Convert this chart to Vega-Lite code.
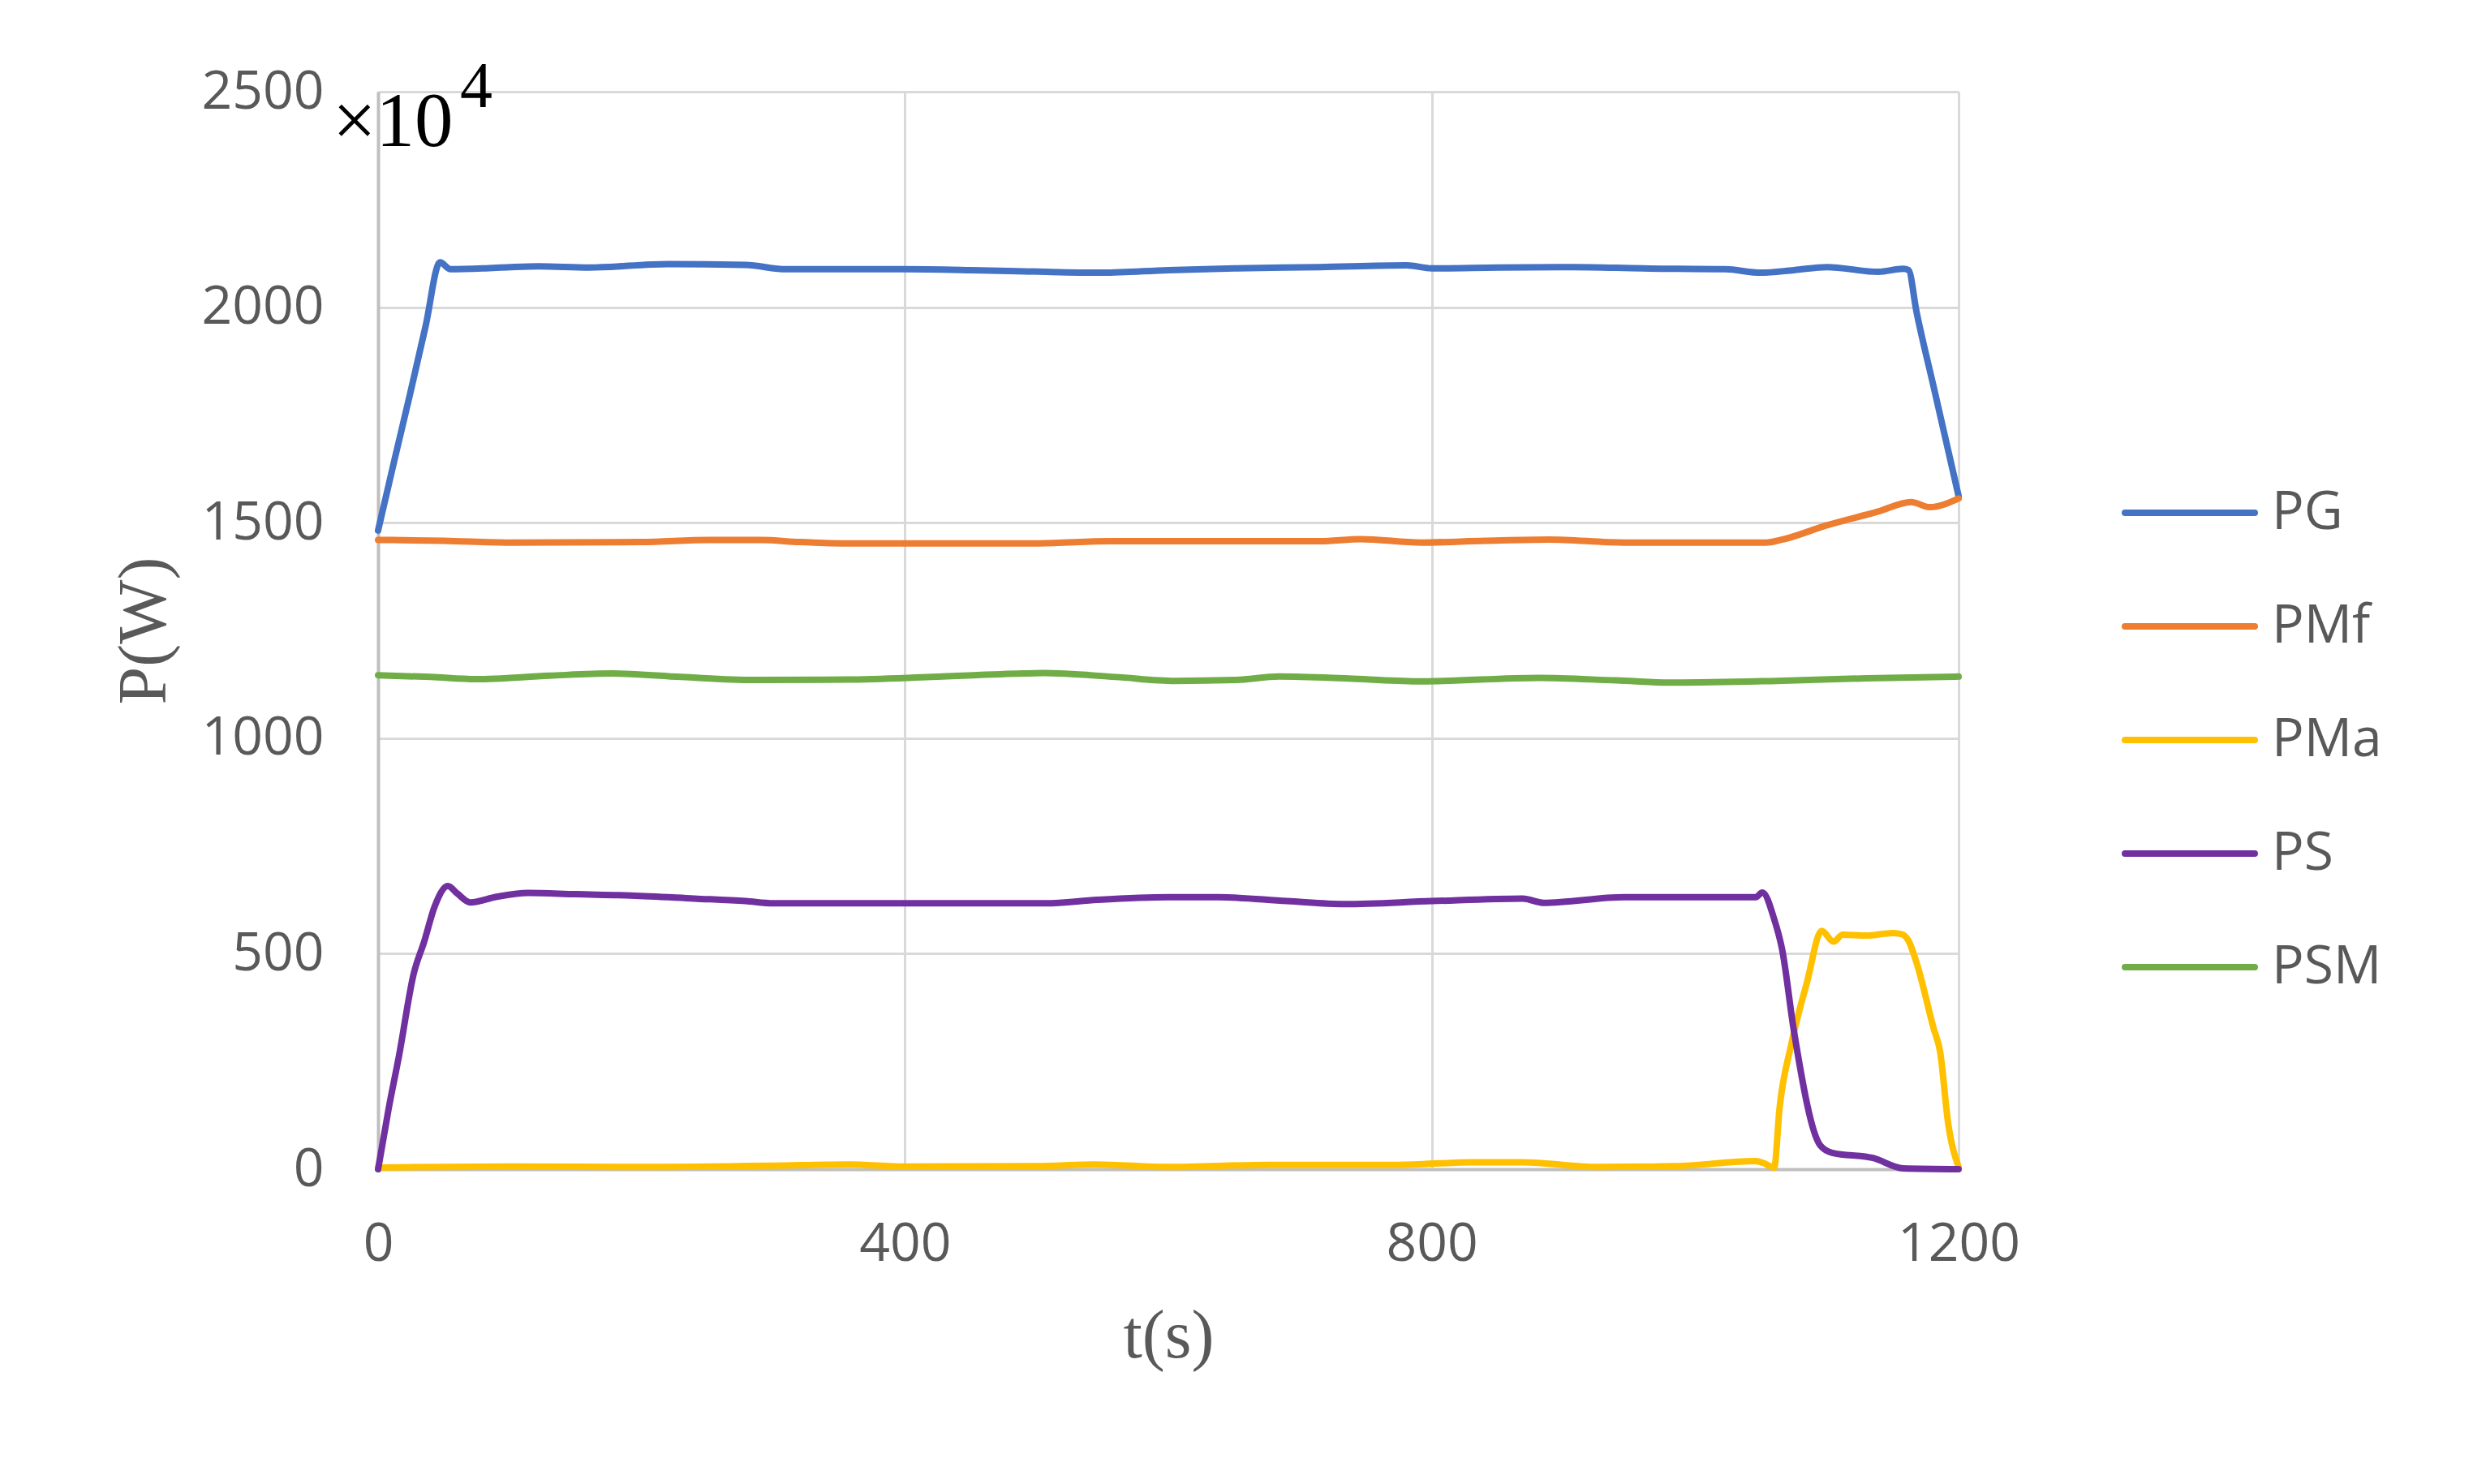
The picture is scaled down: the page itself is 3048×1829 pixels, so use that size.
{
  "$schema": "https://vega.github.io/schema/vega-lite/v6.json",
  "width": 1948,
  "height": 1328,
  "autosize": {"type": "none"},
  "padding": {"left": 466, "top": 113, "right": 634, "bottom": 388},
  "background": "white",
  "config": {"view": {"stroke": null}, "font": "Open Sans"},
  "datasets": {
    "series": [
      {"s": "PG", "t": 0, "v": 1482}, {"s": "PG", "t": 12, "v": 1640}, {"s": "PG", "t": 24, "v": 1795}, {"s": "PG", "t": 36, "v": 1955}, {"s": "PG", "t": 47, "v": 2104}, {"s": "PG", "t": 55, "v": 2088}, {"s": "PG", "t": 80, "v": 2090}, {"s": "PG", "t": 100, "v": 2093}, {"s": "PG", "t": 122, "v": 2095}, {"s": "PG", "t": 160, "v": 2092}, {"s": "PG", "t": 220, "v": 2100}, {"s": "PG", "t": 279, "v": 2098}, {"s": "PG", "t": 310, "v": 2088}, {"s": "PG", "t": 400, "v": 2088}, {"s": "PG", "t": 450, "v": 2086}, {"s": "PG", "t": 507, "v": 2082}, {"s": "PG", "t": 550, "v": 2080}, {"s": "PG", "t": 600, "v": 2086}, {"s": "PG", "t": 650, "v": 2090}, {"s": "PG", "t": 715, "v": 2093}, {"s": "PG", "t": 781, "v": 2097}, {"s": "PG", "t": 800, "v": 2090}, {"s": "PG", "t": 850, "v": 2092}, {"s": "PG", "t": 908, "v": 2093}, {"s": "PG", "t": 960, "v": 2090}, {"s": "PG", "t": 1023, "v": 2088}, {"s": "PG", "t": 1050, "v": 2080}, {"s": "PG", "t": 1075, "v": 2086}, {"s": "PG", "t": 1100, "v": 2093}, {"s": "PG", "t": 1139, "v": 2082}, {"s": "PG", "t": 1158, "v": 2089}, {"s": "PG", "t": 1162, "v": 2086}, {"s": "PG", "t": 1168, "v": 1990}, {"s": "PG", "t": 1181, "v": 1816}, {"s": "PG", "t": 1200, "v": 1562},
      {"s": "PMf", "t": 0, "v": 1460}, {"s": "PMf", "t": 50, "v": 1458}, {"s": "PMf", "t": 100, "v": 1454}, {"s": "PMf", "t": 200, "v": 1455}, {"s": "PMf", "t": 251, "v": 1460}, {"s": "PMf", "t": 291, "v": 1460}, {"s": "PMf", "t": 320, "v": 1455}, {"s": "PMf", "t": 356, "v": 1452}, {"s": "PMf", "t": 502, "v": 1452}, {"s": "PMf", "t": 555, "v": 1457}, {"s": "PMf", "t": 715, "v": 1457}, {"s": "PMf", "t": 746, "v": 1462}, {"s": "PMf", "t": 792, "v": 1454}, {"s": "PMf", "t": 840, "v": 1458}, {"s": "PMf", "t": 889, "v": 1461}, {"s": "PMf", "t": 946, "v": 1454}, {"s": "PMf", "t": 1054, "v": 1454}, {"s": "PMf", "t": 1065, "v": 1460}, {"s": "PMf", "t": 1100, "v": 1494}, {"s": "PMf", "t": 1139, "v": 1526}, {"s": "PMf", "t": 1164, "v": 1548}, {"s": "PMf", "t": 1178, "v": 1536}, {"s": "PMf", "t": 1200, "v": 1556},
      {"s": "PMa", "t": 0, "v": 4}, {"s": "PMa", "t": 100, "v": 6}, {"s": "PMa", "t": 200, "v": 5}, {"s": "PMa", "t": 300, "v": 8}, {"s": "PMa", "t": 357, "v": 11}, {"s": "PMa", "t": 400, "v": 6}, {"s": "PMa", "t": 500, "v": 7}, {"s": "PMa", "t": 545, "v": 11}, {"s": "PMa", "t": 600, "v": 5}, {"s": "PMa", "t": 677, "v": 10}, {"s": "PMa", "t": 774, "v": 10}, {"s": "PMa", "t": 831, "v": 16}, {"s": "PMa", "t": 869, "v": 16}, {"s": "PMa", "t": 927, "v": 5}, {"s": "PMa", "t": 985, "v": 7}, {"s": "PMa", "t": 1046, "v": 19}, {"s": "PMa", "t": 1052, "v": 14}, {"s": "PMa", "t": 1060, "v": 4}, {"s": "PMa", "t": 1064, "v": 140}, {"s": "PMa", "t": 1073, "v": 290}, {"s": "PMa", "t": 1085, "v": 435}, {"s": "PMa", "t": 1096, "v": 553}, {"s": "PMa", "t": 1105, "v": 528}, {"s": "PMa", "t": 1112, "v": 544}, {"s": "PMa", "t": 1130, "v": 542}, {"s": "PMa", "t": 1150, "v": 548}, {"s": "PMa", "t": 1157, "v": 545}, {"s": "PMa", "t": 1162, "v": 530}, {"s": "PMa", "t": 1168, "v": 480}, {"s": "PMa", "t": 1181, "v": 327}, {"s": "PMa", "t": 1186, "v": 272}, {"s": "PMa", "t": 1192, "v": 108}, {"s": "PMa", "t": 1200, "v": 5},
      {"s": "PS", "t": 0, "v": 0}, {"s": "PS", "t": 8, "v": 140}, {"s": "PS", "t": 16, "v": 265}, {"s": "PS", "t": 27, "v": 453}, {"s": "PS", "t": 35, "v": 528}, {"s": "PS", "t": 43, "v": 610}, {"s": "PS", "t": 53, "v": 657}, {"s": "PS", "t": 60, "v": 640}, {"s": "PS", "t": 70, "v": 619}, {"s": "PS", "t": 90, "v": 632}, {"s": "PS", "t": 114, "v": 641}, {"s": "PS", "t": 150, "v": 638}, {"s": "PS", "t": 192, "v": 635}, {"s": "PS", "t": 240, "v": 628}, {"s": "PS", "t": 279, "v": 622}, {"s": "PS", "t": 300, "v": 617}, {"s": "PS", "t": 400, "v": 617}, {"s": "PS", "t": 507, "v": 617}, {"s": "PS", "t": 546, "v": 625}, {"s": "PS", "t": 600, "v": 631}, {"s": "PS", "t": 638, "v": 631}, {"s": "PS", "t": 690, "v": 622}, {"s": "PS", "t": 734, "v": 615}, {"s": "PS", "t": 800, "v": 622}, {"s": "PS", "t": 869, "v": 628}, {"s": "PS", "t": 885, "v": 618}, {"s": "PS", "t": 946, "v": 631}, {"s": "PS", "t": 1046, "v": 631}, {"s": "PS", "t": 1051, "v": 642}, {"s": "PS", "t": 1060, "v": 580}, {"s": "PS", "t": 1066, "v": 510}, {"s": "PS", "t": 1075, "v": 320}, {"s": "PS", "t": 1095, "v": 55}, {"s": "PS", "t": 1104, "v": 38}, {"s": "PS", "t": 1135, "v": 26}, {"s": "PS", "t": 1158, "v": 2}, {"s": "PS", "t": 1200, "v": 0},
      {"s": "PSM", "t": 0, "v": 1146}, {"s": "PSM", "t": 40, "v": 1142}, {"s": "PSM", "t": 74, "v": 1137}, {"s": "PSM", "t": 130, "v": 1145}, {"s": "PSM", "t": 178, "v": 1150}, {"s": "PSM", "t": 230, "v": 1142}, {"s": "PSM", "t": 285, "v": 1135}, {"s": "PSM", "t": 356, "v": 1136}, {"s": "PSM", "t": 420, "v": 1142}, {"s": "PSM", "t": 490, "v": 1150}, {"s": "PSM", "t": 505, "v": 1151}, {"s": "PSM", "t": 560, "v": 1142}, {"s": "PSM", "t": 605, "v": 1133}, {"s": "PSM", "t": 651, "v": 1135}, {"s": "PSM", "t": 684, "v": 1143}, {"s": "PSM", "t": 740, "v": 1138}, {"s": "PSM", "t": 792, "v": 1132}, {"s": "PSM", "t": 881, "v": 1140}, {"s": "PSM", "t": 940, "v": 1134}, {"s": "PSM", "t": 985, "v": 1129}, {"s": "PSM", "t": 1062, "v": 1133}, {"s": "PSM", "t": 1130, "v": 1139}, {"s": "PSM", "t": 1200, "v": 1143}
    ],
    "annot": [
      {"t": 0, "v": 2500, "label": "×10", "part": "base"},
      {"t": 0, "v": 2500, "label": "4", "part": "exp"}
    ]
  },
  "layer": [
    {
      "data": {"name": "series"},
      "mark": {"type": "line", "strokeWidth": 8, "interpolate": "monotone", "strokeJoin": "round", "strokeCap": "round"},
      "encoding": {
        "x": {
          "field": "t", "type": "quantitative",
          "scale": {"domain": [0, 1200], "nice": false, "zero": false},
          "axis": {
            "title": "t(s)", "titleFont": "Liberation Serif", "titleFontSize": 84, "titleFontWeight": "normal", "titleColor": "#595959", "titlePadding": 40,
            "values": [0, 400, 800, 1200], "format": "d", "labelFontSize": 66, "labelColor": "#595959", "labelFont": "Open Sans", "labelPadding": 60, "labelFlush": false, "labelOverlap": false,
            "ticks": false, "grid": true, "gridColor": "#D9D9D9", "gridWidth": 3, "domainColor": "#BFBFBF", "domainWidth": 4
          }
        },
        "y": {
          "field": "v", "type": "quantitative",
          "scale": {"domain": [0, 2500], "nice": false},
          "axis": {
            "title": "P(W)", "titleFont": "Liberation Serif", "titleFontSize": 84, "titleFontWeight": "normal", "titleColor": "#595959", "titlePadding": 45,
            "values": [0, 500, 1000, 1500, 2000, 2500], "format": "d", "labelFontSize": 66, "labelColor": "#595959", "labelFont": "Open Sans", "labelPadding": 67, "labelFlush": false, "labelOverlap": false,
            "ticks": false, "grid": true, "gridColor": "#D9D9D9", "gridWidth": 3, "domainColor": "#BFBFBF", "domainWidth": 4
          }
        },
        "color": {
          "field": "s", "type": "nominal",
          "scale": {"domain": ["PG", "PMf", "PMa", "PS", "PSM"], "range": ["#4472C4", "#ED7D31", "#FFC000", "#7030A0", "#70AD47"]},
          "legend": {
            "orient": "none", "legendX": 2163, "legendY": 449, "title": null, "padding": 0,
            "symbolType": "M-1.212,0H1.212", "symbolSize": 17424, "symbolStrokeWidth": 8,
            "labelFontSize": 66, "labelColor": "#595959", "labelFont": "Open Sans", "labelOffset": 31, "labelLimit": 400, "rowPadding": 37,
            "encode": {"symbols": {"update": {"strokeCap": {"value": "round"}}}}
          }
        }
      }
    },
    {
      "data": {"name": "annot"},
      "transform": [{"filter": "datum.part === 'base'"}],
      "mark": {"type": "text", "font": "Liberation Serif", "fontSize": 95, "color": "#000000", "align": "left", "baseline": "alphabetic", "dx": -56, "dy": 67},
      "encoding": {
        "x": {"field": "t", "type": "quantitative"},
        "y": {"field": "v", "type": "quantitative"},
        "text": {"field": "label"}
      }
    },
    {
      "data": {"name": "annot"},
      "transform": [{"filter": "datum.part === 'exp'"}],
      "mark": {"type": "text", "font": "Liberation Serif", "fontSize": 80, "color": "#000000", "align": "left", "baseline": "alphabetic", "dx": 101, "dy": 19},
      "encoding": {
        "x": {"field": "t", "type": "quantitative"},
        "y": {"field": "v", "type": "quantitative"},
        "text": {"field": "label"}
      }
    }
  ]
}
